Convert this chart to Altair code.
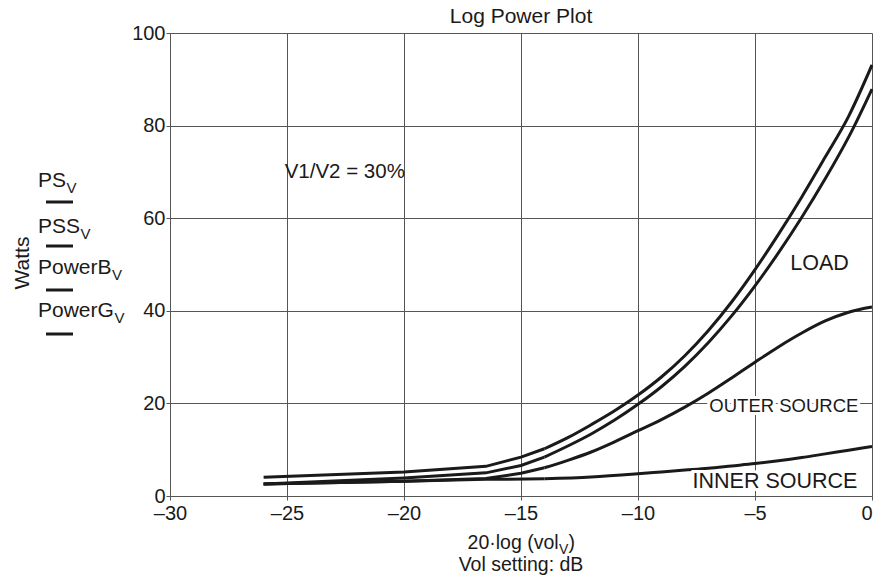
import altair as alt
import pandas as pd

# ---------------- data ----------------
x_ps = [-26, -20, -16.5, -15, -14, -13, -12, -11, -10, -9, -8, -7, -6, -5, -4, -3, -2, -1, 0]
ps_v = [4.07, 5.2, 6.4, 8.4, 10.2, 12.6, 15.4, 18.4, 21.8, 25.7, 30.3, 35.7, 41.9, 48.9, 56.5, 64.6, 73.2, 82.0, 93.1]

x_pss = [-26, -20, -16.5, -15, -14, -13, -12, -11, -10, -9, -8, -7, -6, -5, -4, -3, -2, -1, 0]
pss_v = [2.57, 3.9, 5.0, 6.6, 8.4, 10.8, 13.4, 16.4, 19.8, 23.6, 28.0, 33.1, 38.9, 45.4, 52.5, 60.2, 68.5, 77.5, 87.9]

x_pb = [-26, -20, -16.5, -15, -14, -13, -12, -11, -10, -9, -8, -7, -6, -5, -4, -3, -2, -1, 0]
powerb_v = [2.57, 3.2, 3.8, 4.9, 6.1, 7.7, 9.5, 11.7, 14.1, 16.5, 19.2, 22.2, 25.5, 28.9, 32.2, 35.2, 37.8, 39.7, 40.8]

x_pg = [-26, -20, -16.5, -14, -12, -10, -9, -8, -7, -6, -5, -4, -3, -2, -1, 0]
powerg_v = [2.57, 3.2, 3.6, 3.7, 4.1, 4.8, 5.2, 5.6, 6.0, 6.5, 7.0, 7.6, 8.3, 9.1, 9.9, 10.7]

series_names = ["PS", "PSS", "PowerB", "PowerG"]
x_ticks = [-30, -25, -20, -15, -10, -5, 0]
y_ticks = [0, 20, 40, 60, 80, 100]
KNEE = -14  # straight segments below this setting, smooth curve above

FONT = "Liberation Sans"
INK = "#1a1a1a"
GRID = "#555555"
W, H = 702, 463

frames = []
for name, xs, ys in zip(series_names, [x_ps, x_pss, x_pb, x_pg], [ps_v, pss_v, powerb_v, powerg_v]):
    d = pd.DataFrame({"db": xs, "watts": ys, "series": name})
    frames.append(d)
df = pd.concat(frames, ignore_index=True)
df_low = df[df["db"] <= KNEE]
df_high = df[df["db"] >= KNEE]

xscale = alt.Scale(domain=[-30, 0], nice=False, zero=False)
yscale = alt.Scale(domain=[0, 100], nice=False)

one = pd.DataFrame({"k": [0]})

x_enc = alt.X("db:Q", scale=xscale, title=None,
              axis=alt.Axis(values=x_ticks, grid=True, gridColor=GRID, gridOpacity=1, gridWidth=1,
                            domainColor=GRID, tickColor=GRID, tickSize=4, labelPadding=3,
                            labelFont=FONT, labelFontSize=20, labelColor=INK, labelFlush=False,
                            labelAlign=alt.condition("datum.value == 0", alt.value("right"), alt.value("center")),
                            labelExpr="datum.value < 0 ? '\u2013' + abs(datum.value) : datum.label"))
y_enc = alt.Y("watts:Q", scale=yscale, title=None,
              axis=alt.Axis(values=y_ticks, grid=True, gridColor=GRID, gridOpacity=1, gridWidth=1,
                            domainColor=GRID, tickColor=GRID, tickSize=4, labelPadding=1,
                            labelFont=FONT, labelFontSize=20, labelColor=INK))

low = alt.Chart(df_low).mark_line(color=INK, strokeWidth=3, interpolate="linear").encode(
    x=x_enc, y=y_enc, detail="series:N")
high = alt.Chart(df_high).mark_line(color=INK, strokeWidth=3, interpolate="monotone").encode(
    x=alt.X("db:Q", scale=xscale), y=alt.Y("watts:Q", scale=yscale), detail="series:N")


def px_text(txt, x, y, size, align="left", baseline="alphabetic", angle=0):
    return alt.Chart(one).mark_text(text=txt, font=FONT, fontSize=size, align=align,
                                    baseline=baseline, angle=angle, color=INK).encode(
        x=alt.value(x), y=alt.value(y))


def data_text(txt, xv, yv, size, align="left", halo=False):
    layers = []
    if halo:
        layers.append(alt.Chart(one).mark_text(text=txt, font=FONT, fontSize=size, align=align,
                                               baseline="middle", color="white", stroke="white",
                                               strokeWidth=6).encode(
            x=alt.datum(xv, scale=xscale), y=alt.datum(yv, scale=yscale)))
    layers.append(alt.Chart(one).mark_text(text=txt, font=FONT, fontSize=size, align=align,
                                           baseline="middle", color=INK).encode(
        x=alt.datum(xv, scale=xscale), y=alt.datum(yv, scale=yscale)))
    return layers


def bar(x1, x2, y):
    return alt.Chart(one).mark_rule(color=INK, strokeWidth=3).encode(
        x=alt.value(x1), x2=alt.value(x2), y=alt.value(y))


layers = [low, high]

# annotations inside the plot
layers += data_text("V1/V2 = 30%", -25.1, 70.0, 20.5)
layers += data_text("LOAD", -3.49, 50.1, 21.5)
layers += data_text("OUTER SOURCE", -6.95, 19.4, 18.5, halo=True)
layers += data_text("INNER SOURCE", -7.67, 3.0, 21.5, halo=True)

# left-hand legend (text with subscript V, and a short bar under it)
LX = -132
legend_widths = [28.0, 42.0, 73.5, 75.9]
legend_baselines = [154, 200, 241, 284]
legend_bars = [169, 213, 257, 301]
for name, wd, bl, by in zip(series_names, legend_widths, legend_baselines, legend_bars):
    layers.append(px_text(name, LX, bl, 21))
    layers.append(px_text("V", LX + wd + 0.5, bl + 6, 15))
    layers.append(bar(-124, -97, by))

# y-axis title
layers.append(px_text("Watts", -147, 230, 21, align="center", baseline="middle", angle=270))

# chart title
layers.append(px_text("Log Power Plot", W / 2, -10, 21, align="center"))

# x-axis title (two lines, with subscript)
FS = 19.5
cx = W / 2
l1_main = FS * 4.668
l1_sub = 14 * 0.667
l1_par = FS * 0.333
tot = l1_main + l1_sub + l1_par
x0 = cx - tot / 2
layers.append(px_text("20\u00b7log (vol", x0 + l1_main, 516, FS, align="right"))
layers.append(px_text("V", x0 + l1_main + 0.5, 521, 14))
layers.append(px_text(")", x0 + l1_main + l1_sub + 0.5, 516, FS))
layers.append(px_text("Vol setting: dB", cx, 538, FS, align="center"))

chart = alt.layer(*layers).properties(
    width=W, height=H,
    autosize=alt.AutoSizeParams(type="none"),
    padding={"left": 162, "top": 25, "right": 1, "bottom": 80},
).configure_view(stroke=GRID, strokeWidth=1).configure(background="white")

chart.save("out.html", embed_options={"renderer": "svg", "actions": False})
